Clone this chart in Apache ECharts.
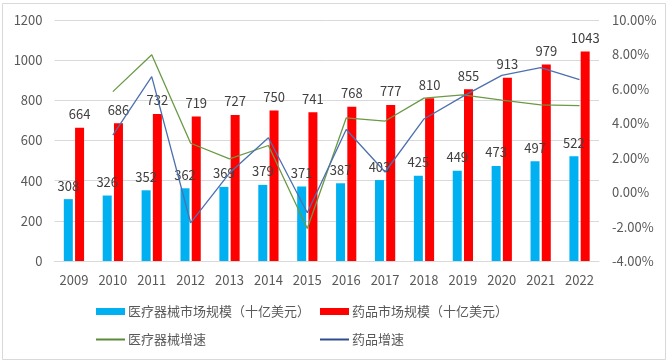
<!DOCTYPE html>
<html>
<head>
<meta charset="utf-8">
<script src="https://cdn.jsdelivr.net/npm/echarts@6/dist/echarts.min.js"></script>
<style>
html,body{margin:0;padding:0;background:#fff;}
#c{width:667px;height:363px;}
</style>
</head>
<body>
<div id="c"></div>
<script>
var years = ['2009','2010','2011','2012','2013','2014','2015','2016','2017','2018','2019','2020','2021','2022'];
var deviceMarket = [308,326,352,362,369,379,371,387,403,425,449,473,497,522];
var drugMarket = [664,686,732,719,727,750,741,768,777,810,855,913,979,1043];
var deviceGrowth = [null,5.84,7.98,2.84,1.93,2.71,-2.11,4.31,4.13,5.46,5.65,5.35,5.07,5.03];
var drugGrowth = [null,3.31,6.71,-1.78,1.11,3.16,-1.20,3.64,1.17,4.25,5.56,6.78,7.23,6.54];
var leftTicks = {min:0,max:1200,interval:200};
var rightTicks = {min:-4,max:10,interval:2};

var names = ['医疗器械市场规模（十亿美元）','药品市场规模（十亿美元）','医疗器械增速','药品增速'];
var fontFam = '"Noto Sans CJK SC","Noto Sans",sans-serif';
var txt = '#595959';

var chart = echarts.init(document.getElementById('c'));
function lg(name, left, top, w, h, color){
  return {
    data:[name], left:left, top:top, orient:'horizontal',
    icon:'rect', itemWidth:w, itemHeight:h, itemGap:0,
    padding:0,
    textStyle:{color:txt, fontSize:13, fontFamily:fontFam, padding:[0,0,0,-2]},
    itemStyle:{color:color, borderWidth:0}
  };
}
chart.setOption({
  animation:false,
  backgroundColor:'#fff',
  graphic:[{type:'rect', shape:{x:2.5,y:3.5,width:663,height:356}, style:{fill:'none', stroke:'#d9d9d9', lineWidth:1}}],
  grid:{left:54.5, right:68, top:20, bottom:102},
  legend:[
    lg(names[0], 96, 305, 29, 7, '#00B0F0'),
    lg(names[1], 320, 305, 29, 7, '#FF0000'),
    lg(names[2], 96, 333, 29, 2, '#5b8a3a'),
    lg(names[3], 320, 333, 29, 2, '#2f4d8c')
  ],
  xAxis:{type:'category', data:years,
    axisLine:{lineStyle:{color:'#d9d9d9'}}, axisTick:{show:false},
    axisLabel:{color:txt, fontSize:13, fontFamily:fontFam, margin:13}},
  yAxis:[
    {type:'value', min:leftTicks.min, max:leftTicks.max, interval:leftTicks.interval,
     axisLine:{show:false}, axisTick:{show:false},
     axisLabel:{color:txt, fontSize:13, fontFamily:fontFam, margin:12,
       formatter:function(v){return String(v);}},
     splitLine:{lineStyle:{color:'#d9d9d9'}}},
    {type:'value', min:rightTicks.min, max:rightTicks.max, interval:rightTicks.interval,
     axisLine:{show:false}, axisTick:{show:false}, splitLine:{show:false},
     axisLabel:{color:txt, fontSize:13, fontFamily:fontFam, margin:13,
       formatter:function(v){return v.toFixed(2)+'%';}}}
  ],
  series:[
    {name:names[0], type:'bar', data:deviceMarket, barWidth:9, barGap:'25%',
     itemStyle:{color:'#00B0F0'},
     label:{show:true, position:'top', distance:7, color:'#404040', fontSize:13, fontFamily:fontFam}},
    {name:names[1], type:'bar', data:drugMarket, barWidth:9,
     itemStyle:{color:'#FF0000'},
     label:{show:true, position:'top', distance:7, color:'#404040', fontSize:13, fontFamily:fontFam}},
    {name:names[2], type:'line', yAxisIndex:1, data:deviceGrowth, symbol:'none',
     lineStyle:{color:'#6a9a45', width:1.3}, itemStyle:{color:'#5b8a3a'}},
    {name:names[3], type:'line', yAxisIndex:1, data:drugGrowth, symbol:'none',
     lineStyle:{color:'#4d70b0', width:1.3}, itemStyle:{color:'#2f4d8c'}}
  ]
});
</script>
</body>
</html>
